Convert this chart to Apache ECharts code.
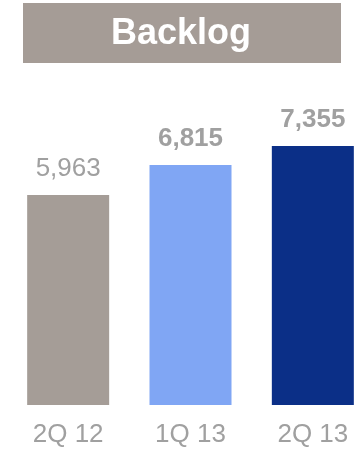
<!DOCTYPE html>
<html>
<head>
<meta charset="utf-8">
<script src="https://cdn.jsdelivr.net/npm/echarts@6/dist/echarts.min.js"></script>
<style>html,body{margin:0;padding:0;background:#fff;overflow:hidden;width:360px;height:449px;}#c{width:376px;height:449px;}</style>
</head>
<body>
<div id="c"></div>
<script>
const categories = ['2Q 12', '1Q 13', '2Q 13'];
const values = [5963, 6815, 7355];
const barColors = ['#a59d97', '#80a6f4', '#0b2f87'];
const labelBold = [false, true, true];
const titleText = 'Backlog';

const chart = echarts.init(document.getElementById('c'), null, {renderer: 'canvas'});
chart.setOption({
  animation: false,
  graphic: [
    {type: 'rect', shape: {x: 23, y: 3, width: 318, height: 60}, style: {fill: '#a59c96'}, z: 0},
    {type: 'text', x: 181, y: 34, z: 1, style: {text: titleText, fill: '#ffffff', font: 'bold 36px "Liberation Sans", Arial, sans-serif', textAlign: 'center', textVerticalAlign: 'middle'}}
  ],
  grid: {left: 7, width: 367, top: 53, bottom: 44, containLabel: false},
  xAxis: {
    type: 'category', data: categories,
    axisLine: {show: false}, axisTick: {show: false},
    axisLabel: {margin: 17, color: '#a0a0a0', fontSize: 26, fontFamily: '"Liberation Sans", Arial, sans-serif'}
  },
  yAxis: {type: 'value', min: 0, max: 10000, show: false, splitLine: {show: false}},
  series: [{
    type: 'bar',
    barWidth: 82,
    data: values.map((v, i) => ({
      value: v,
      itemStyle: {color: barColors[i]},
      label: {fontWeight: labelBold[i] ? 'bold' : 'normal'}
    })),
    label: {
      show: true, position: 'top', distance: 13,
      color: '#a0a0a0', fontSize: 26, fontFamily: '"Liberation Sans", Arial, sans-serif',
      formatter: p => p.value.toLocaleString('en-US')
    }
  }]
});
</script>
</body>
</html>
